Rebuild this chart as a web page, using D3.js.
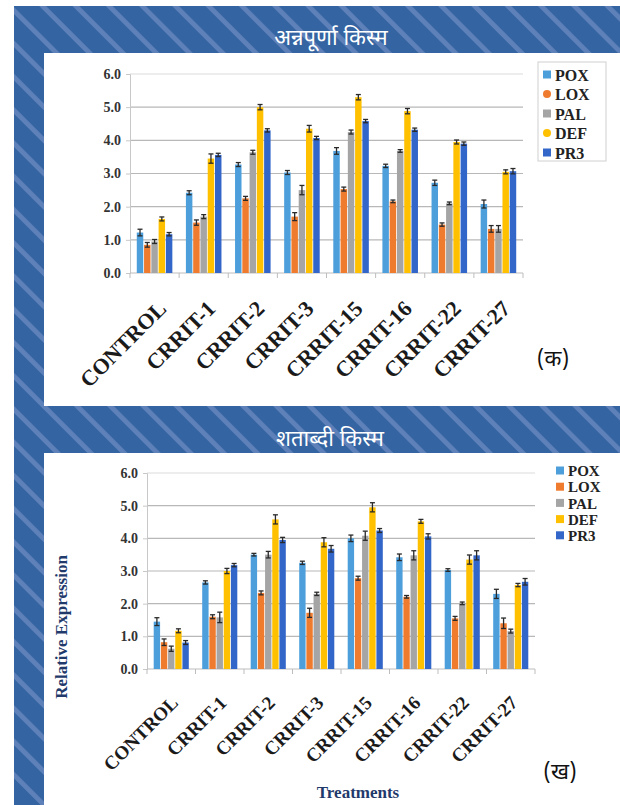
<!DOCTYPE html>
<html>
<head>
<meta charset="utf-8">
<script src="https://cdn.jsdelivr.net/npm/d3@7"></script>
<style>
  html, body { margin: 0; padding: 0; background: #fff; }
  svg { display: block; }
</style>
</head>
<body>
<svg id="chart" width="620" height="805"></svg>
<script>
// Treatments and gene series
const categories = ["CONTROL", "CRRIT-1", "CRRIT-2", "CRRIT-3", "CRRIT-15", "CRRIT-16", "CRRIT-22", "CRRIT-27"];
const seriesNames = ["POX", "LOX", "PAL", "DEF", "PR3"];
const yTicks = [0, 1, 2, 3, 4, 5, 6];

// Variety 1 (Annapurna): relative expression per series
const annaPOX = [1.22, 2.42, 3.27, 3.03, 3.68, 3.23, 2.72, 2.08];
const annaLOX = [0.85, 1.52, 2.25, 1.70, 2.53, 2.16, 1.46, 1.33];
const annaPAL = [0.95, 1.70, 3.64, 2.50, 4.25, 3.68, 2.10, 1.33];
const annaDEF = [1.63, 3.45, 5.00, 4.35, 5.30, 4.88, 3.95, 3.05];
const annaPR3 = [1.17, 3.56, 4.30, 4.07, 4.58, 4.32, 3.90, 3.07];
// Variety 1 error (± half-range)
const annaPOXErr = [0.10, 0.06, 0.06, 0.06, 0.10, 0.05, 0.08, 0.12];
const annaLOXErr = [0.07, 0.08, 0.06, 0.12, 0.06, 0.04, 0.05, 0.10];
const annaPALErr = [0.06, 0.06, 0.06, 0.14, 0.06, 0.04, 0.04, 0.10];
const annaDEFErr = [0.06, 0.14, 0.08, 0.10, 0.08, 0.08, 0.06, 0.06];
const annaPR3Err = [0.05, 0.05, 0.05, 0.05, 0.05, 0.05, 0.05, 0.08];

// Variety 2 (Shatabdi): relative expression per series
const shatPOX = [1.45, 2.65, 3.50, 3.25, 4.00, 3.42, 3.03, 2.30];
const shatLOX = [0.82, 1.60, 2.33, 1.72, 2.78, 2.21, 1.55, 1.40];
const shatPAL = [0.62, 1.58, 3.50, 2.30, 4.08, 3.48, 2.01, 1.16];
const shatDEF = [1.17, 3.00, 4.58, 3.88, 4.95, 4.52, 3.35, 2.57];
const shatPR3 = [0.81, 3.18, 3.95, 3.68, 4.24, 4.06, 3.48, 2.67];
// Variety 2 error (± half-range)
const shatPOXErr = [0.12, 0.05, 0.04, 0.05, 0.10, 0.10, 0.04, 0.14];
const shatLOXErr = [0.10, 0.06, 0.06, 0.14, 0.06, 0.04, 0.06, 0.16];
const shatPALErr = [0.08, 0.16, 0.10, 0.05, 0.14, 0.14, 0.04, 0.06];
const shatDEFErr = [0.06, 0.08, 0.14, 0.14, 0.14, 0.06, 0.14, 0.05];
const shatPR3Err = [0.06, 0.05, 0.08, 0.10, 0.06, 0.08, 0.14, 0.10];

const colors = ["#4d9fdc", "#ef7b2e", "#a5a5a5", "#ffc000", "#3366c9"];

const svg = d3.select("#chart");
const serif = "'Liberation Serif', 'Times New Roman', serif";
const deva = "'Noto Sans Devanagari', 'Lohit Devanagari', 'Mangal', 'Noto Sans', sans-serif";

// ----- striped blue backdrop (stripes run top-left to bottom-right) -----
const defs = svg.append("defs");
const pat = defs.append("pattern")
  .attr("id", "stripes")
  .attr("patternUnits", "userSpaceOnUse")
  .attr("width", 23.5).attr("height", 23.5)
  .attr("patternTransform", "rotate(-45)");
pat.append("rect").attr("width", 23.5).attr("height", 23.5).attr("fill", "#3464a1");
pat.append("rect").attr("x", 0).attr("width", 4.8).attr("height", 23.5).attr("fill", "#5f81ba");

svg.append("rect").attr("x", 14).attr("y", 6).attr("width", 606).attr("height", 799)
  .attr("fill", "url(#stripes)");

// white chart panels
svg.append("rect").attr("x", 44).attr("y", 53).attr("width", 576).attr("height", 353).attr("fill", "#ffffff");
svg.append("rect").attr("x", 44).attr("y", 453).attr("width", 576).attr("height", 352).attr("fill", "#ffffff");

// panel headings
svg.append("text").attr("x", 331).attr("y", 45).attr("text-anchor", "middle")
  .attr("fill", "#ffffff").style("font-family", deva).style("font-size", "22px")
  .text("अन्नपूर्णा किस्म");
svg.append("text").attr("x", 330).attr("y", 446).attr("text-anchor", "middle")
  .attr("fill", "#ffffff").style("font-family", deva).style("font-size", "22px")
  .text("शताब्दी किस्म");

function drawChart(opt) {
  const g = svg.append("g");
  const x0 = d3.scaleBand().domain(categories).range([opt.left, opt.right])
    .paddingInner(0.26).paddingOuter(0.13);
  const x1 = d3.scaleBand().domain(seriesNames).range([0, x0.bandwidth()]).padding(0);
  const y = d3.scaleLinear().domain([0, 6]).range([opt.bottom, opt.top]);

  // gridlines
  g.append("g").selectAll("line").data(yTicks.filter(d => d > 0)).join("line")
    .attr("x1", opt.left).attr("x2", opt.right)
    .attr("y1", d => y(d)).attr("y2", d => y(d))
    .attr("stroke", d => d === 6 ? "#dcdcdc" : "#b8b8b8").attr("stroke-width", 1.2);

  // y axis
  const ya = g.append("g").attr("transform", `translate(${opt.left},0)`)
    .call(d3.axisLeft(y).tickValues(yTicks).tickFormat(d3.format(".1f")).tickSize(4).tickPadding(5));
  ya.attr("font-family", null);
  ya.select(".domain").attr("stroke", "#c8c8c8");
  ya.selectAll(".tick line").attr("stroke", "#c8c8c8");
  ya.selectAll("text").style("font-family", serif).style("font-weight", "bold")
    .style("font-size", "14px").attr("fill", "#333");

  // x axis baseline with ticks at group boundaries
  const bounds = d3.range(categories.length + 1).map(i => opt.left + i * (opt.right - opt.left) / categories.length);
  g.append("line").attr("x1", opt.left).attr("x2", opt.right)
    .attr("y1", opt.bottom).attr("y2", opt.bottom).attr("stroke", "#bdbdbd").attr("stroke-width", 1.2);
  g.append("g").selectAll("line").data(bounds).join("line")
    .attr("x1", d => d).attr("x2", d => d)
    .attr("y1", opt.bottom).attr("y2", opt.bottom + 5).attr("stroke", "#bdbdbd");

  // bars
  const groups = g.append("g").selectAll("g").data(categories).join("g")
    .attr("transform", d => `translate(${x0(d)},0)`);
  seriesNames.forEach((s, si) => {
    const vals = opt.values[si], errs = opt.errors[si];
    groups.append("rect")
      .attr("x", x1(s) + 0.4).attr("width", x1.bandwidth() - 0.8)
      .attr("y", (d, i) => y(vals[i]))
      .attr("height", (d, i) => opt.bottom - y(vals[i]))
      .attr("fill", colors[si]);
    // error bars
    const eb = groups.append("g").attr("stroke", "#2a2a2a").attr("stroke-width", 1.3);
    const cx = x1(s) + x1.bandwidth() / 2;
    eb.append("line").attr("x1", cx).attr("x2", cx)
      .attr("y1", (d, i) => y(vals[i] - errs[i])).attr("y2", (d, i) => y(vals[i] + errs[i]));
    eb.append("line").attr("x1", cx - 2.5).attr("x2", cx + 2.5)
      .attr("y1", (d, i) => y(vals[i] + errs[i])).attr("y2", (d, i) => y(vals[i] + errs[i]));
    eb.append("line").attr("x1", cx - 2.5).attr("x2", cx + 2.5)
      .attr("y1", (d, i) => y(vals[i] - errs[i])).attr("y2", (d, i) => y(vals[i] - errs[i]));
  });

  // rotated category labels
  g.append("g").selectAll("text").data(categories).join("text")
    .attr("transform", d => `translate(${x0(d) + x0.bandwidth() / 2 + opt.labelDx},${opt.bottom + opt.labelDy}) rotate(-45)`)
    .attr("text-anchor", "end")
    .style("font-family", serif).style("font-weight", "bold").style("font-size", opt.labelSize + "px")
    .attr("fill", "#1a1a1a")
    .text(d => d);

  // legend
  const lg = g.append("g");
  if (opt.legendBox) {
    lg.append("rect").attr("x", opt.legendBox[0]).attr("y", opt.legendBox[1])
      .attr("width", opt.legendBox[2]).attr("height", opt.legendBox[3])
      .attr("fill", "#fff").attr("stroke", "#d0d0d0");
  }
  seriesNames.forEach((s, si) => {
    const yy = opt.legendY + si * opt.legendStep;
    lg.append("rect").attr("x", opt.legendX).attr("y", yy - 4.5).attr("width", 8).attr("height", 8)
      .attr("rx", (si === 1 || si === 3) && opt.legendBox ? 4 : 0)
      .attr("fill", colors[si]);
    lg.append("text").attr("x", opt.legendX + 12).attr("y", yy).attr("dy", "0.35em")
      .style("font-family", serif).style("font-weight", "bold").style("font-size", opt.legendSize + "px")
      .attr("fill", "#222").text(s);
  });

  // panel tag
  g.append("text").attr("x", opt.tag[0]).attr("y", opt.tag[1]).attr("text-anchor", "middle")
    .style("font-family", deva).style("font-size", "22px").attr("fill", "#111").text(opt.tag[2]);
  return { x0, y };
}

drawChart({
  left: 130, right: 523, top: 74, bottom: 273,
  values: [annaPOX, annaLOX, annaPAL, annaDEF, annaPR3],
  errors: [annaPOXErr, annaLOXErr, annaPALErr, annaDEFErr, annaPR3Err],
  labelDx: 13, labelDy: 37, labelSize: 22,
  legendBox: [538, 62, 68, 99], legendX: 543, legendY: 75, legendStep: 19.5, legendSize: 16,
  tag: [553, 366, "(क)"]
});

drawChart({
  left: 147, right: 535, top: 473, bottom: 669,
  values: [shatPOX, shatLOX, shatPAL, shatDEF, shatPR3],
  errors: [shatPOXErr, shatLOXErr, shatPALErr, shatDEFErr, shatPR3Err],
  labelDx: 8, labelDy: 35, labelSize: 19,
  legendBox: null, legendX: 556, legendY: 471, legendStep: 16.2, legendSize: 15,
  tag: [560, 779, "(ख)"]
});

// axis titles for the second panel
svg.append("text").attr("transform", "translate(67,627) rotate(-90)").attr("text-anchor", "middle")
  .style("font-family", serif).style("font-weight", "bold").style("font-size", "17px")
  .attr("fill", "#1f3a6b").text("Relative Expression");
svg.append("text").attr("x", 358).attr("y", 798).attr("text-anchor", "middle")
  .style("font-family", serif).style("font-weight", "bold").style("font-size", "17px")
  .attr("fill", "#1f3a6b").text("Treatments");
</script>
</body>
</html>
